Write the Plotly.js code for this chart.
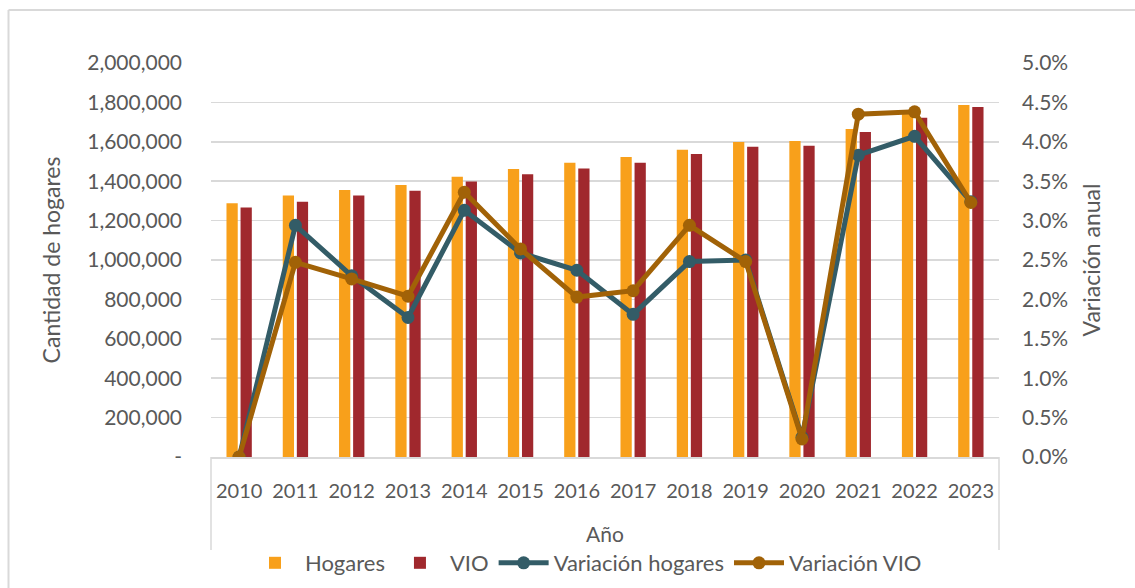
<!DOCTYPE html>
<html>
<head>
<meta charset="utf-8">
<script src="https://cdn.plot.ly/plotly-3.0.1.min.js"></script>
<style>html,body{margin:0;padding:0;background:#fff;}#chart{width:1135px;height:588px;}</style>
</head>
<body>
<div id="chart"></div>
<script>
// ---- Data ----
const years = ['2010','2011','2012','2013','2014','2015','2016','2017','2018','2019','2020','2021','2022','2023'];
const hogares = [1288000,1327000,1355000,1381000,1423000,1462000,1494000,1523000,1560000,1599000,1604000,1665000,1748000,1787000];
const vio = [1266000,1296000,1327000,1352000,1398000,1435000,1464000,1494000,1538000,1575000,1580000,1650000,1722000,1777000];
const variacionHogares = [0.0000,0.0294,0.0230,0.0177,0.0313,0.0259,0.0237,0.0181,0.0248,0.0250,0.0025,0.0383,0.0407,0.0324];
const variacionVIO = [0.0000,0.0247,0.0226,0.0204,0.0336,0.0264,0.0203,0.0211,0.0294,0.0248,0.0023,0.0435,0.0438,0.0323];
const leftTickVals = [0,200000,400000,600000,800000,1000000,1200000,1400000,1600000,1800000,2000000];
const leftTickText = ['-','200,000','400,000','600,000','800,000','1,000,000','1,200,000','1,400,000','1,600,000','1,800,000','2,000,000'];

// ---- Layout geometry (pixels) ----
const W = 1135, H = 588;
const M = {l: 211, r: 136, t: 63, b: 131, autoexpand: false};
const pw = W - M.l - M.r, ph = H - M.t - M.b;
const px = x => (x - M.l) / pw;
const py = y => (H - M.b - y) / ph;

const fam = 'Lato, "Open Sans", sans-serif';
const col = '#595959';
const xTickFont = {family: fam, size: 20, color: col};
const yTickFont = {family: fam, size: 21, color: col};
const titleFont = {family: fam, size: 23, color: col};
const xTitleFont = {family: fam, size: 21, color: col};
const legendFont = {family: fam, size: 22, color: col};
const grid = '#D9D9D9';

const traces = [
  {type: 'bar', name: 'Hogares', x: years, y: hogares, marker: {color: '#F8A01B'}, yaxis: 'y'},
  {type: 'bar', name: 'VIO', x: years, y: vio, marker: {color: '#A0282D'}, yaxis: 'y'},
  {type: 'scatter', mode: 'lines+markers', name: 'Variación hogares', x: years, y: variacionHogares, yaxis: 'y2',
   line: {color: '#335C67', width: 5}, marker: {color: '#335C67', size: 13}},
  {type: 'scatter', mode: 'lines+markers', name: 'Variación VIO', x: years, y: variacionVIO, yaxis: 'y2',
   line: {color: '#A16207', width: 5}, marker: {color: '#A16207', size: 13}}
];

const layout = {
  width: W, height: H,
  margin: M,
  paper_bgcolor: '#fff', plot_bgcolor: '#fff',
  font: {family: fam, size: 20, color: col},
  barmode: 'group', bargap: 0.5, bargroupgap: 0.2,
  showlegend: true,
  legend: {orientation: 'h', x: px(586), xanchor: 'center', y: py(563), yanchor: 'middle',
           font: legendFont, traceorder: 'normal', itemwidth: 50},
  xaxis: {type: 'category', range: [-0.5, years.length - 0.5], autorange: false,
          showgrid: false, zeroline: false, showline: true, linecolor: grid, linewidth: 1.5,
          ticks: '', tickfont: xTickFont, ticklabelstandoff: 15,
          title: {text: 'Año', font: xTitleFont, standoff: 27}},
  yaxis: {range: [0, 2000000], tickvals: leftTickVals, ticktext: leftTickText, showgrid: true, gridcolor: grid, gridwidth: 1.5,
          zeroline: false, showline: false, ticks: '', tickfont: yTickFont, ticklabelstandoff: 28,
          title: {text: 'Cantidad de hogares', font: titleFont, standoff: 20}},
  yaxis2: {overlaying: 'y', side: 'right', range: [0, 0.05], dtick: 0.005, tickformat: '.1%', showgrid: false,
           zeroline: false, showline: false, ticks: '', tickfont: yTickFont, ticklabelstandoff: 22,
           title: {text: 'Variación anual', font: titleFont, standoff: 16}},
  shapes: [
    {type: 'line', xref: 'paper', yref: 'paper', x0: px(8.5), x1: px(1135), y0: py(10), y1: py(10), line: {color: grid, width: 2}},
    {type: 'line', xref: 'paper', yref: 'paper', x0: px(8.5), x1: px(8.5), y0: py(10), y1: py(588), line: {color: grid, width: 2}},
    {type: 'line', xref: 'paper', yref: 'paper', x0: 0, x1: 0, y0: 0, y1: py(550), line: {color: grid, width: 1.5}},
    {type: 'line', xref: 'paper', yref: 'paper', x0: 1, x1: 1, y0: 0, y1: py(550), line: {color: grid, width: 1.5}}
  ]
};

Plotly.newPlot('chart', traces, layout, {displayModeBar: false, staticPlot: true});
</script>
</body>
</html>
